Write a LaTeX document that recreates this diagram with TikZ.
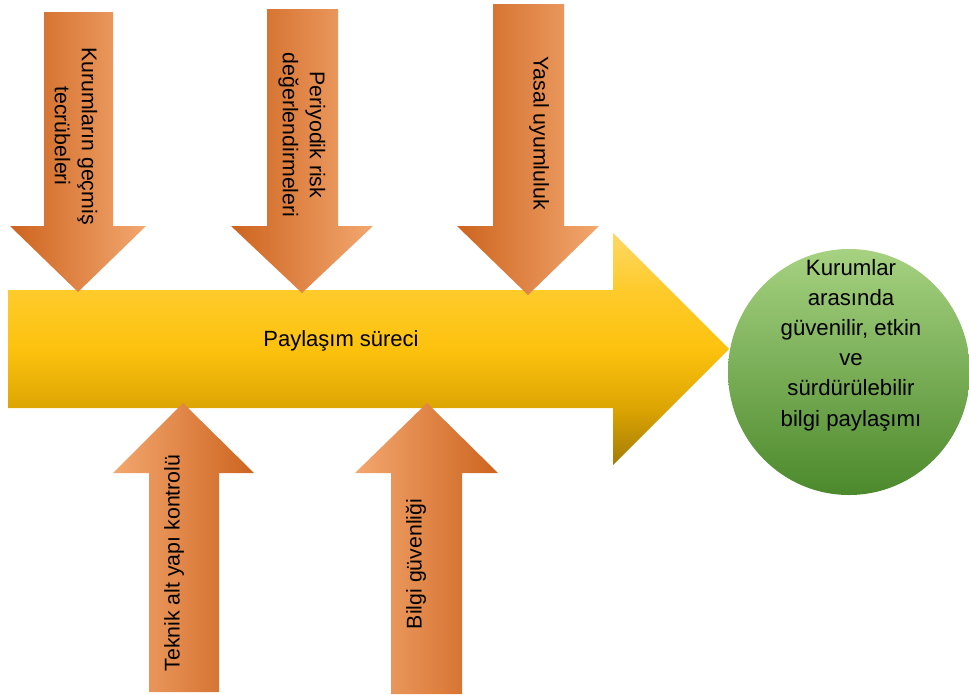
\documentclass[tikz,border=0pt]{standalone}
\usepackage{fontspec}
\setmainfont{Liberation Sans}
\definecolor{orDark}{HTML}{CD641F}
\definecolor{orMid}{HTML}{ED7F30}
\definecolor{orLight}{HTML}{F3A76F}
\definecolor{goldTop}{HTML}{FED865}
\definecolor{goldHi}{HTML}{FECB2C}
\definecolor{goldMid}{HTML}{FDC20E}
\definecolor{goldLo}{HTML}{DCA402}
\definecolor{goldBot}{HTML}{A47C06}
\definecolor{grTop}{HTML}{A6D281}
\definecolor{grMid}{HTML}{78B351}
\definecolor{grBot}{HTML}{4C892C}
% vertical blend for the process arrow (25bp = bottom edge, 75bp = top edge)
\pgfdeclareverticalshading{goldshade}{100bp}{color(0bp)=(goldBot); color(25bp)=(goldBot);
  color(37bp)=(goldLo); color(50bp)=(goldMid); color(63bp)=(goldHi);
  color(75bp)=(goldTop); color(100bp)=(goldTop)}
\begin{document}
\begin{tikzpicture}[x=1pt,y=-1pt,
  lbl/.style={font=\fontsize{21.3}{27}\selectfont, align=center, text=black, inner sep=0pt},
  downfill/.style={left color=orDark, middle color=orMid, right color=orLight},
  upfill/.style={left color=orLight, middle color=orMid, right color=orDark}]
\useasboundingbox (0,0) rectangle (969,694);

% main process arrow
\shade[shading=goldshade]
  (8,290) -- (613,290) -- (613,233) -- (729,349) -- (613,465) -- (613,408) -- (8,408) -- cycle;
\node[lbl, font=\fontsize{22}{26}\selectfont] (process) at (341,341) {Paylaşım süreci};

% outcome
\shade[top color=grTop, middle color=grMid, bottom color=grBot]
  (849,372) ellipse [x radius=121, y radius=123];
\node[lbl, font=\fontsize{22.2}{30.2}\selectfont] (outcome) at (851,345)
  {Kurumlar\\arasında\\güvenilir, etkin\\ve\\sürdürülebilir\\bilgi paylaşımı};

% factors from above
\shade[downfill] (44,12) -- (113,12) -- (113,226) -- (146,226) -- (78,292) -- (10,226) -- (44,226) -- cycle;
\shade[downfill] (267,9) -- (338,9) -- (338,226) -- (373,226) -- (302,293) -- (231,226) -- (267,226) -- cycle;
\shade[downfill] (493,4) -- (564,4) -- (564,226) -- (599,226) -- (528,295) -- (457,226) -- (493,226) -- cycle;
\node[lbl, rotate=-90] (f1) at (76,136) {Kurumların geçmiş\\tecrübeleri};
\node[lbl, rotate=-90] (f2) at (302,135) {Periyodik risk\\değerlendirmeleri};
\node[lbl, rotate=-90] (f3) at (539,133) {Yasal uyumluluk};

% factors from below
\shade[upfill] (149,692) -- (219,692) -- (219,473) -- (254,473) -- (183,403) -- (113,473) -- (149,473) -- cycle;
\shade[upfill] (391,694) -- (462,694) -- (462,473) -- (498,473) -- (427,403) -- (355,473) -- (391,473) -- cycle;
\node[lbl, rotate=90] (f4) at (174,563) {Teknik alt yapı kontrolü};
\node[lbl, rotate=90] (f5) at (416,564) {Bilgi güvenliği};
\end{tikzpicture}
\end{document}
